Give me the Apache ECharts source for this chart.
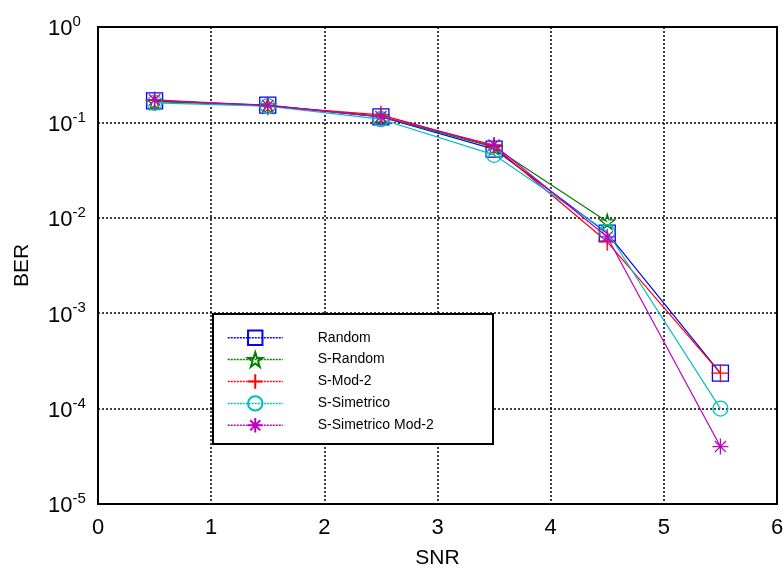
<!DOCTYPE html>
<html><head><meta charset="utf-8">
<script src="https://cdn.jsdelivr.net/npm/echarts@6/dist/echarts.min.js"></script>
<style>html,body{margin:0;padding:0;background:#fff}#c{width:783px;height:571px}</style>
</head><body><div id="c"></div>
<script>
const snr = [0.5, 1.5, 2.5, 3.5, 4.5, 5.5];
const seriesNames = ['Random', 'S-Random', 'S-Mod-2', 'S-Simetrico', 'S-Simetrico Mod-2'];
const berRandom = [0.168, 0.152, 0.114, 0.0525, 0.0069, 2.35e-4];
const berSRandom = [0.165, 0.150, 0.115, 0.055, 0.0091, null];
const berSMod2 = [0.170, 0.148, 0.120, 0.056, 0.0056, 2.35e-4];
const berSSim = [0.160, 0.148, 0.108, 0.0457, 0.0071, 1.0e-4];
const berSSimMod2 = [0.172, 0.150, 0.115, 0.058, 0.0063, 4.0e-5];
const xTicks = [0, 1, 2, 3, 4, 5, 6];

const colors = ['#0000ff', '#008000', '#ff0000', '#00bfbf', '#bf00bf'];
const symbols = [
  'path://M0,0L10,0L10,10L0,10Z',
  'path://M50,0L61.8,36.2L100,36.2L69.1,58.8L80.9,95.1L50,72.7L19.1,95.1L30.9,58.8L0,36.2L38.2,36.2Z',
  'path://M5,0L5,10M0,5L10,5',
  'path://M50,0A50,50,0,1,1,49.99,0Z',
  'path://M5,0L5,10M0,5L10,5M1.5,1.5L8.5,8.5M8.5,1.5L1.5,8.5'
];
const sizes = [16, 15, 18, 15, 16];
const dataSets = [berRandom, berSRandom, berSMod2, berSSim, berSSimMod2];
const FONT = 'Arial, "Liberation Sans", sans-serif';

const chart = echarts.init(document.getElementById('c'), null, {renderer: 'canvas'});
const series = seriesNames.map((n, i) => ({
  name: n, type: 'line',
  data: snr.map((x, j) => dataSets[i][j] == null ? [x, '-'] : [x, dataSets[i][j]]),
  symbol: symbols[i], symbolSize: sizes[i],
  itemStyle: {color: 'none', borderColor: colors[i], borderWidth: 1.3},
  lineStyle: {color: colors[i], width: 1.2},
  emphasis: {disabled: true},
  animation: false,
  z: 3 + i
}));

chart.setOption({
  animation: false,
  grid: {left: 98, top: 27, right: 6, bottom: 67, show: true, borderColor: '#000', borderWidth: 2,
    containLabel: false, outerBoundsMode: 'none'},
  xAxis: {
    type: 'value', min: 0, max: 6, interval: 1,
    name: 'SNR', nameLocation: 'middle', nameGap: 44,
    nameTextStyle: {fontFamily: FONT, fontSize: 21, color: '#000'},
    axisLine: {show: true, lineStyle: {color: '#000', width: 2}},
    axisTick: {show: false},
    axisLabel: {fontFamily: FONT, fontSize: 22, color: '#000', margin: 13,
      formatter: v => String(xTicks[xTicks.indexOf(v)])},
    splitLine: {show: true, lineStyle: {color: '#000', width: 1.5, type: [2, 2]}}
  },
  yAxis: {
    type: 'log', logBase: 10, min: 1e-5, max: 1,
    name: 'BER', nameLocation: 'middle', nameGap: 65, nameRotate: 90,
    nameTextStyle: {fontFamily: FONT, fontSize: 21, color: '#000'},
    axisLine: {show: true, lineStyle: {color: '#000', width: 2}},
    axisTick: {show: false},
    minorTick: {show: false},
    axisLabel: {
      margin: 50, align: 'left', padding: [12, 0, 0, 0],
      formatter: v => '{b|10}{s|' + Math.round(Math.log10(v)) + '}',
      rich: {
        b: {fontFamily: FONT, fontSize: 22, color: '#000', lineHeight: 22, padding: [0, 0, 7.5, 0]},
        s: {fontFamily: FONT, fontSize: 15, color: '#000', lineHeight: 15, padding: [0, 0, 22, 0]}
      }
    },
    splitLine: {show: true, lineStyle: {color: '#000', width: 1.5, type: [2, 2]}}
  },
  legend: {
    orient: 'vertical', left: 227, top: 328, padding: 0, z: 20,
    itemWidth: 55, itemHeight: 18, itemGap: 2.5,
    data: seriesNames,
    textStyle: {fontFamily: FONT, fontSize: 14, color: '#000', padding: [0, 0, 0, 30]},
    lineStyle: {type: [2, 1], width: 1.5},
    selectedMode: false
  },
  graphic: [{
    type: 'rect', z: 10, left: 212, top: 313,
    shape: {width: 280, height: 130},
    style: {fill: '#fff', stroke: '#000', lineWidth: 2}
  }],
  series: series
});
</script></body></html>
